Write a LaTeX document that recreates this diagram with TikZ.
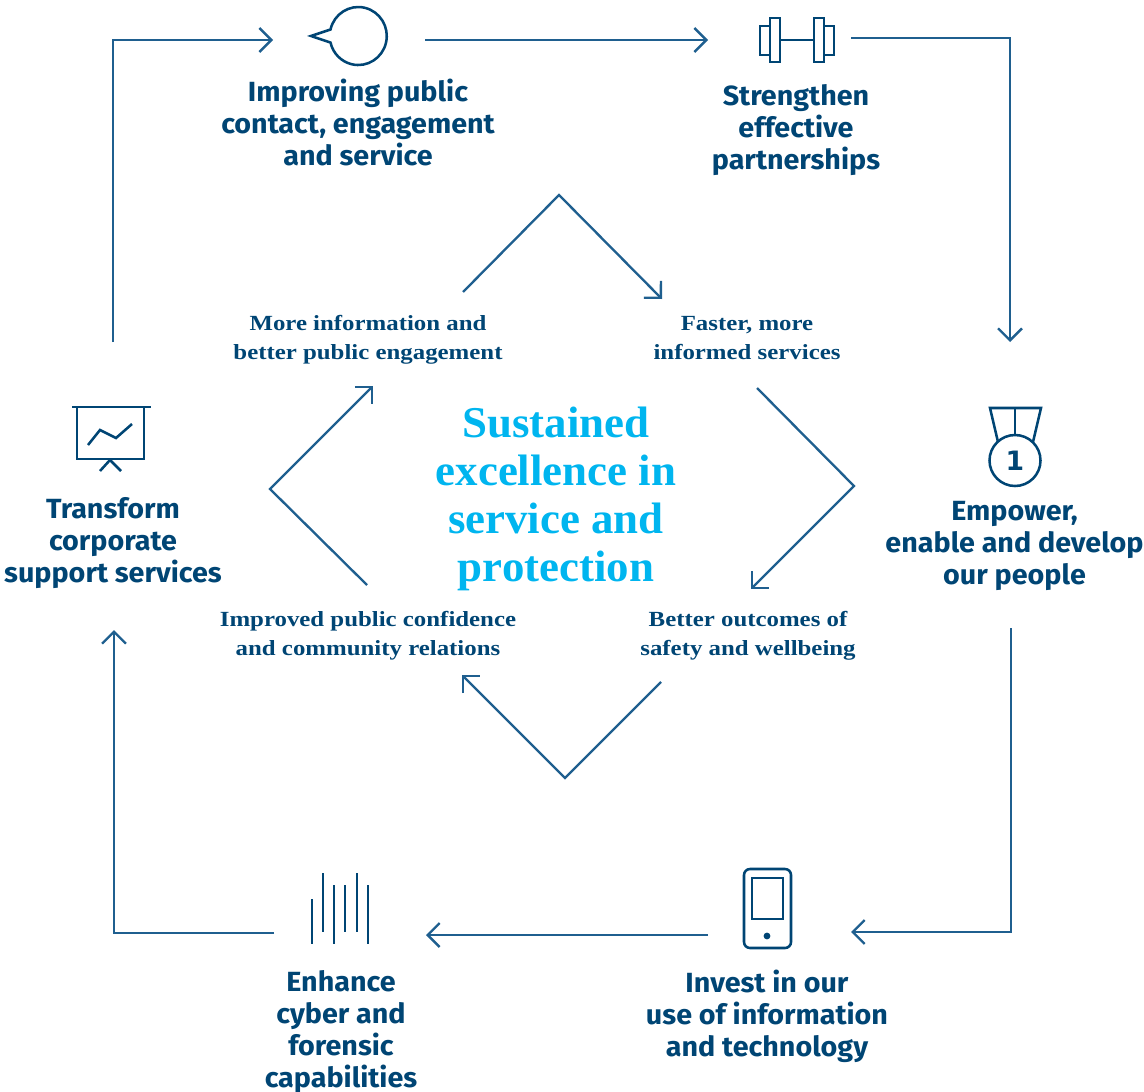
\documentclass[tikz,border=0pt]{standalone}
\usepackage{fontspec}
\setmainfont[FakeStretch=1.035]{Fira Sans}
\newfontfamily\serifa[FakeStretch=1.15]{Liberation Serif}
\newfontfamily\serifb[FakeStretch=1.02]{Liberation Serif}
\newfontfamily\numf{DejaVu Sans}
\usetikzlibrary{arrows.meta}
\definecolor{ink}{HTML}{004574}
\definecolor{wire}{HTML}{1F5F8F}
\definecolor{sky}{HTML}{00B5EF}
\tikzset{
  lab/.style={text=ink,align=center,font=\fontsize{20.8}{24}\selectfont\bfseries,inner sep=0pt},
  sub/.style={text=ink,align=center,font=\serifa\fontsize{16.2}{21.75}\selectfont\bfseries,inner sep=0pt},
  mid/.style={text=sky,align=center,font=\serifb\fontsize{33}{36}\selectfont\bfseries,inner sep=0pt},
  flow/.style={draw=wire,line width=1.75pt,-{Straight Barb[length=9pt,width=18pt,line width=1.75pt]}},
  icon/.style={draw=ink,line width=1.9pt,fill=none},
}
\begin{document}
\begin{tikzpicture}[x=0.75pt,y=-0.75pt]
\useasboundingbox (0,0) rectangle (1144,1091);
% labels
\node[lab] (contact) at (358,122) {Improving public\\contact, engagement\\and service};
\node[lab] (partner) at (796,130) {Strengthen\\effective\\partnerships};
\node[lab] (empower) at (1014.5,546) {Empower,\\enable and develop\\our people};
\node[lab] (invest) at (767,1016) {Invest in our\\use of information\\and technology};
\node[lab] (cyber) at (341,1032) {Enhance\\cyber and\\forensic\\capabilities};
\node[lab] (corp) at (113,543) {Transform\\corporate\\support services};
\node[sub] (info) at (368,340) {More information and\\better public engagement};
\node[sub] (faster) at (747,338) {Faster, more\\informed services};
\node[sub] (better) at (748,636) {Better outcomes of\\safety and wellbeing};
\node[sub] (conf) at (368,636) {Improved public confidence\\and community relations};
\node[mid] (core) at (556,499) {Sustained\\excellence in\\service and\\protection};
% outer ring
\coordinate (a1) at (113,342); \coordinate (a2) at (113,40); \coordinate (a3) at (273,40);
\coordinate (b1) at (425,40); \coordinate (b2) at (708,40);
\coordinate (c1) at (851,38); \coordinate (c2) at (1010,38); \coordinate (c3) at (1010,342);
\coordinate (d1) at (1011,628); \coordinate (d2) at (1011,932); \coordinate (d3) at (851,932);
\coordinate (e1) at (708,935); \coordinate (e2) at (426,935);
\coordinate (f1) at (274,933); \coordinate (f2) at (114,933); \coordinate (f3) at (114,630);
\draw[flow] (a1) -- (a2) -- (a3);
\draw[flow] (b1) -- (b2);
\draw[flow] (c1) -- (c2) -- (c3);
\draw[flow] (d1) -- (d2) -- (d3);
\draw[flow] (e1) -- (e2);
\draw[flow] (f1) -- (f2) -- (f3);
% inner ring
\coordinate (g1) at (463,292); \coordinate (g2) at (559,195); \coordinate (g3) at (662,299);
\coordinate (h1) at (757,388); \coordinate (h2) at (854,486); \coordinate (h3) at (751,589);
\coordinate (i1) at (661,682); \coordinate (i2) at (565,778); \coordinate (i3) at (462,675);
\coordinate (j1) at (367,585); \coordinate (j2) at (270,489); \coordinate (j3) at (373,386);
\draw[flow] (g1) -- (g2) -- (g3);
\draw[flow] (h1) -- (h2) -- (h3);
\draw[flow] (i1) -- (i2) -- (i3);
\draw[flow] (j1) -- (j2) -- (j3);
% speech bubble
\draw[icon,line join=miter] (311,36) -- (330.5,29.5) arc[start angle=193,end angle=527,x radius=28.5,y radius=29] -- cycle;
% dumbbell
\draw[icon] (770,18) rectangle (780,62);
\draw[icon] (760,26) rectangle (770,55);
\draw[icon] (814,18) rectangle (824,62);
\draw[icon] (824,26) rectangle (834,55);
\draw[icon] (780,40) -- (814,40);
% presentation board
\draw[icon] (72,407) -- (151,407);
\draw[icon] (77,407) -- (77,459) -- (144,459) -- (144,407);
\draw[icon] (88,445) -- (100,430) -- (116,438) -- (132,424);
\draw[icon] (100,471) -- (110,460) -- (121,471);
% medal
\draw[icon] (998,442) -- (990,408) -- (1041,408) -- (1033,442);
\draw[icon] (1015,408) -- (1015,435);
\draw[icon] (1015,460.5) circle[radius=25.5];
\node[text=ink,font=\numf\fontsize{20}{24}\selectfont\bfseries,inner sep=0pt] (one) at (1015,461) {1};
% phone
\draw[icon,rounded corners=4.5pt] (744,869) rectangle (791,948);
\draw[icon] (752,878) rectangle (783,919);
\fill[ink] (767,936) circle[radius=3.4];
% signal bars
\foreach \px/\pa/\pb in {312/899/944,323/873/932,334/885/944,345/885/932,357/873/932,368/885/944}
  \draw[icon] (\px,\pa) -- (\px,\pb);
\end{tikzpicture}
\end{document}
